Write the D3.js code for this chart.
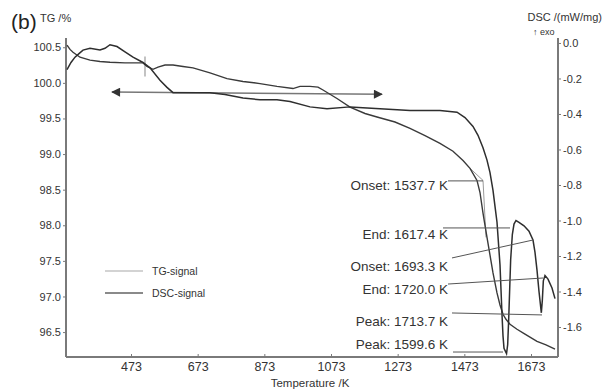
<!DOCTYPE html>
<html>
<head>
<meta charset="utf-8">
<script src="https://cdn.jsdelivr.net/npm/d3@7"></script>
<style>
  body { margin: 0; background: #fff; }
  svg { display: block; font-family: "Liberation Sans", Arial, sans-serif; }
</style>
</head>
<body>
<div id="chart"></div>
<script>
var width = 603, height = 390;

// TG signal (temperature K, mass %)
var tgTemp = [281,290,299,320,350,380,410,455,509,521,539,554,575,599,629,659,710,761,809,860,911,959,980,1010,1034,1049,1091,1130,1175,1211,1265,1310,1355,1400,1439,1469,1490,1511,1520,1529,1535,1541,1550,1559,1571,1580,1589,1598,1610,1631,1655,1691,1718,1745];
var tgMass = [100.53,100.47,100.43,100.36,100.32,100.30,100.29,100.28,100.28,100.23,100.19,100.22,100.25,100.25,100.23,100.21,100.14,100.06,100.02,99.99,99.95,99.92,99.95,99.95,99.94,99.90,99.78,99.66,99.57,99.52,99.45,99.36,99.26,99.15,99.04,98.91,98.80,98.63,98.46,98.17,98.00,97.83,97.58,97.33,97.05,96.88,96.75,96.68,96.61,96.54,96.47,96.37,96.32,96.26];

// DSC signal (temperature K, mW/mg)
var dscTemp = [281,293,305,317,329,350,380,395,410,431,455,479,509,530,560,581,599,629,659,710,755,809,860,911,950,1010,1061,1130,1220,1310,1400,1451,1475,1499,1514,1529,1541,1550,1559,1565,1571,1574,1580,1583,1586,1589,1592,1599.6,1603,1606,1609,1612,1617,1622,1628,1637,1652,1667,1679,1685,1691,1697,1704,1707,1710,1715,1724,1736,1745];
var dscVal = [-0.15,-0.11,-0.08,-0.06,-0.04,-0.03,-0.04,-0.03,-0.01,-0.02,-0.05,-0.08,-0.11,-0.14,-0.21,-0.25,-0.28,-0.28,-0.28,-0.28,-0.29,-0.31,-0.32,-0.32,-0.33,-0.36,-0.37,-0.36,-0.37,-0.38,-0.38,-0.39,-0.42,-0.47,-0.52,-0.59,-0.66,-0.73,-0.83,-0.92,-1.01,-1.09,-1.25,-1.39,-1.53,-1.65,-1.72,-1.75,-1.70,-1.56,-1.39,-1.22,-1.08,-1.02,-1.00,-1.01,-1.03,-1.06,-1.11,-1.18,-1.28,-1.40,-1.52,-1.45,-1.34,-1.31,-1.33,-1.38,-1.44];

var xTicks = [473,673,873,1073,1273,1473,1673];
var tgTicks = [100.5,100.0,99.5,99.0,98.5,98.0,97.5,97.0,96.5];
var dscTicks = [0.0,-0.2,-0.4,-0.6,-0.8,-1.0,-1.2,-1.4,-1.6];

// evaluation labels, where their leaders start and end (T, DSC units)
var evalLabels = ["Onset: 1537.7 K","End: 1617.4 K","Onset: 1693.3 K","End: 1720.0 K","Peak: 1713.7 K","Peak: 1599.6 K"];
var evalLabelV = [-0.80,-1.08,-1.26,-1.39,-1.57,-1.70];
var leadStartT = [1424,1409,1436,1424,1436,1439];
var leadStartV = [-0.777,-1.042,-1.211,-1.358,-1.521,-1.741];
var leadEndT = [1529,1610,1679,1709,1706,1589];
var leadEndV = [-0.777,-1.042,-1.11,-1.324,-1.532,-1.741];

var legendNames = ["TG-signal","DSC-signal"];

var x = d3.scaleLinear().domain([278,1754]).range([66,558]);
var yTG = d3.scaleLinear().domain([96.15,100.63]).range([357,38]);
var yDSC = d3.scaleLinear().domain([-1.769,0.028]).range([357,38]);

var svg = d3.select("#chart").append("svg")
  .attr("width", width)
  .attr("height", height);

// axes
var axisColor = "#7a7a7a";
var left = svg.append("g").attr("transform", "translate(66,0)")
  .call(d3.axisLeft(yTG).tickValues(tgTicks).tickFormat(d3.format(".1f")).tickSize(3).tickPadding(2));
var right = svg.append("g").attr("transform", "translate(558,0)")
  .call(d3.axisRight(yDSC).tickValues(dscTicks).tickFormat(d3.format(".1f")).tickSize(3).tickPadding(2));
var bottom = svg.append("g").attr("transform", "translate(0,357)")
  .call(d3.axisBottom(x).tickValues(xTicks).tickFormat(d3.format("d")).tickSize(-3).tickPadding(5));

[left, right, bottom].forEach(function(g){
  g.select(".domain").attr("stroke", axisColor).attr("stroke-width", 2);
  g.selectAll(".tick line").attr("stroke", axisColor);
  g.selectAll(".tick text").attr("fill", "#333").style("font-size", "11px");
});
bottom.selectAll(".tick text").style("font-size", "12.5px");
right.selectAll(".tick text").text(function(d){ return d3.format(".1f")(d).replace("−","-"); });
left.select(".domain").attr("d", "M0,38V357");
right.select(".domain").attr("d", "M0,38V357");
bottom.select(".domain").attr("d", "M66,0H558");

// titles
svg.append("text").attr("x", 11).attr("y", 29).style("font-size", "21px").attr("fill", "#222").text("(b)");
svg.append("text").attr("x", 40).attr("y", 22).style("font-size", "11px").attr("fill", "#333").text("TG /%");
svg.append("text").attr("x", 602).attr("y", 21).attr("text-anchor", "end").style("font-size", "11px").attr("fill", "#333").text("DSC /(mW/mg)");
svg.append("text").attr("x", 533).attr("y", 35).style("font-size", "9px").attr("fill", "#333").text("\u2191 exo");
svg.append("text").attr("x", 310).attr("y", 387).attr("text-anchor", "middle").style("font-size", "11.5px").attr("fill", "#333").text("Temperature /K");

// double arrow
var defs = svg.append("defs");
defs.append("marker").attr("id", "ah").attr("viewBox", "0 0 10 10").attr("refX", 9).attr("refY", 5)
  .attr("markerWidth", 11).attr("markerHeight", 9).attr("markerUnits", "userSpaceOnUse").attr("orient", "auto-start-reverse")
  .append("path").attr("d", "M0,0L10,5L0,10Z").attr("fill", "#333");
svg.append("line")
  .attr("x1", x(416)).attr("y1", yTG(99.87))
  .attr("x2", x(1226)).attr("y2", yTG(99.84))
  .attr("stroke", "#777").attr("stroke-width", 1.5)
  .attr("marker-start", "url(#ah)").attr("marker-end", "url(#ah)");

// tangent construction for TG onset and marker
var thin = "#9a9a9a";
svg.append("path")
  .attr("d", d3.line().x(function(d){ return x(d[0]); }).y(function(d){ return yTG(d[1]); })([[1490,98.80],[1529,98.63],[1538,97.83]]))
  .attr("fill", "none").attr("stroke", thin).attr("stroke-width", 1);
svg.append("line").attr("x1", x(515)).attr("x2", x(515)).attr("y1", yTG(100.37)).attr("y2", yTG(100.09))
  .attr("stroke", thin).attr("stroke-width", 1.2);

// curves
var tgLine = d3.line().x(function(d){ return x(d[0]); }).y(function(d){ return yTG(d[1]); });
var dscLine = d3.line().x(function(d){ return x(d[0]); }).y(function(d){ return yDSC(d[1]); });

svg.append("path").datum(d3.zip(tgTemp, tgMass))
  .attr("d", tgLine).attr("fill", "none").attr("stroke", "#3a3a3a").attr("stroke-width", 1.4);
svg.append("path").datum(d3.zip(dscTemp, dscVal))
  .attr("d", dscLine).attr("fill", "none").attr("stroke", "#2e2e2e").attr("stroke-width", 1.5);

// evaluation leaders and labels
evalLabels.forEach(function(t, i){
  svg.append("line")
    .attr("x1", x(leadStartT[i])).attr("y1", yDSC(leadStartV[i]))
    .attr("x2", x(leadEndT[i])).attr("y2", yDSC(leadEndV[i]))
    .attr("stroke", "#555").attr("stroke-width", 1);
  svg.append("text")
    .attr("x", x(1424)).attr("y", yDSC(evalLabelV[i]))
    .attr("text-anchor", "end").attr("dy", "0.35em")
    .style("font-size", "13.5px").attr("fill", "#333")
    .text(t);
});

// legend
var legendColors = ["#a8a8a8", "#8a8a8a"];
var legendWidths = [1.2, 2];
legendNames.forEach(function(n, i){
  var ly = 271 + i * 22;
  svg.append("line").attr("x1", 105).attr("x2", 143).attr("y1", ly).attr("y2", ly)
    .attr("stroke", legendColors[i]).attr("stroke-width", legendWidths[i]);
  svg.append("text").attr("x", 152).attr("y", ly).attr("dy", "0.35em")
    .style("font-size", "10.5px").attr("fill", "#333").text(n);
});
</script>
</body>
</html>
